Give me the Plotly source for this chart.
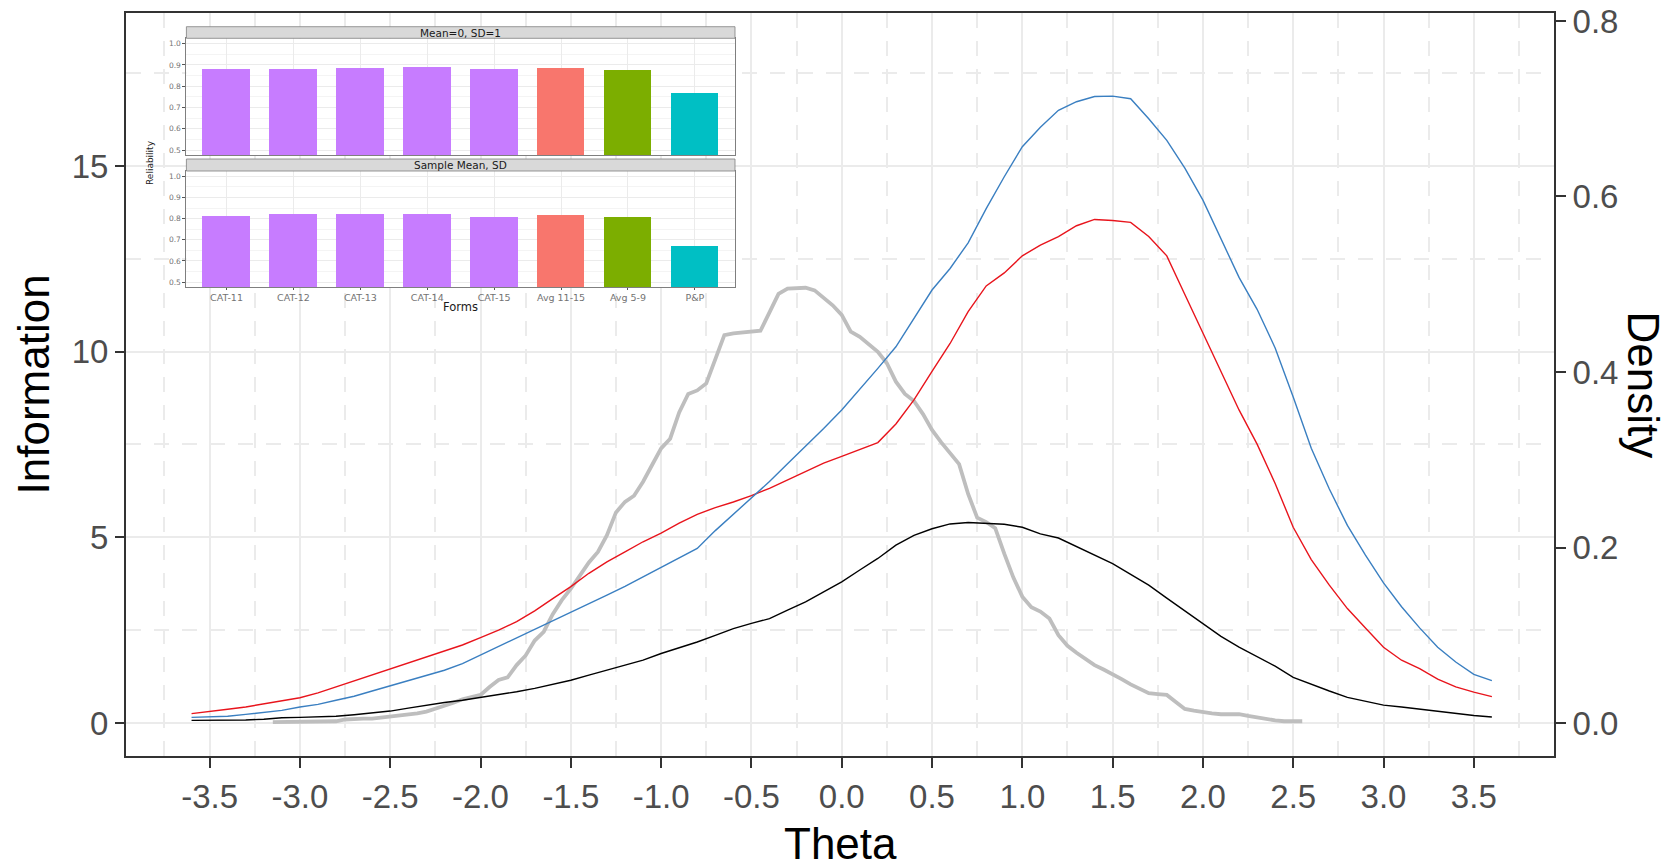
import plotly.graph_objects as go

# ---- test information curves (theta grid shared by the three forms) ----
theta = [-3.6, -3.5, -3.4, -3.3, -3.2, -3.1, -3.0, -2.9, -2.8, -2.7, -2.6, -2.5,
         -2.4, -2.3, -2.2, -2.1, -2.0, -1.9, -1.8, -1.7, -1.6, -1.5, -1.4, -1.3,
         -1.2, -1.1, -1.0, -0.9, -0.8, -0.7, -0.6, -0.5, -0.4, -0.3, -0.2, -0.1,
         0.0, 0.1, 0.2, 0.3, 0.4, 0.5, 0.6, 0.7, 0.8, 0.9, 1.0, 1.1, 1.2, 1.3,
         1.4, 1.5, 1.6, 1.7, 1.8, 1.9, 2.0, 2.1, 2.2, 2.3, 2.4, 2.5, 2.6, 2.7,
         2.8, 2.9, 3.0, 3.1, 3.2, 3.3, 3.4, 3.5, 3.6]

info_blue = [0.15, 0.16, 0.18, 0.23, 0.28, 0.34, 0.43, 0.50, 0.61, 0.72, 0.86, 1.00,
             1.13, 1.26, 1.42, 1.60, 1.83, 2.05, 2.28, 2.50, 2.73, 2.96, 3.20, 3.44,
             3.68, 3.93, 4.18, 4.43, 4.70, 5.18, 5.62, 6.05, 6.50, 6.98, 7.45, 7.93,
             8.43, 8.98, 9.55, 10.13, 10.90, 11.66, 12.24, 12.93, 13.85, 14.71, 15.52,
             16.04, 16.50, 16.73, 16.87, 16.88, 16.81, 16.27, 15.69, 14.94, 14.08,
             13.04, 12.00, 11.14, 10.10, 8.78, 7.40, 6.30, 5.32, 4.52, 3.77, 3.13,
             2.56, 2.04, 1.64, 1.31, 1.14]

info_red = [0.25, 0.32, 0.37, 0.43, 0.52, 0.59, 0.68, 0.81, 0.97, 1.13, 1.31, 1.47,
            1.63, 1.78, 1.93, 2.10, 2.30, 2.50, 2.73, 3.02, 3.35, 3.67, 4.03, 4.34,
            4.61, 4.88, 5.11, 5.38, 5.62, 5.80, 5.95, 6.12, 6.32, 6.55, 6.77, 7.00,
            7.18, 7.36, 7.55, 8.05, 8.70, 9.47, 10.22, 11.08, 11.77, 12.12, 12.58,
            12.87, 13.10, 13.39, 13.56, 13.53, 13.48, 13.10, 12.58, 11.54, 10.51,
            9.47, 8.43, 7.51, 6.45, 5.27, 4.40, 3.71, 3.08, 2.56, 2.04, 1.69, 1.46,
            1.18, 0.97, 0.83, 0.71]

info_black = [0.07, 0.07, 0.07, 0.08, 0.10, 0.14, 0.15, 0.16, 0.18, 0.22, 0.26, 0.32,
              0.40, 0.48, 0.55, 0.61, 0.68, 0.75, 0.84, 0.93, 1.04, 1.15, 1.29, 1.42,
              1.56, 1.69, 1.87, 2.02, 2.18, 2.36, 2.54, 2.68, 2.81, 3.04, 3.26, 3.53,
              3.80, 4.12, 4.43, 4.79, 5.05, 5.23, 5.36, 5.40, 5.38, 5.35, 5.27, 5.09,
              4.98, 4.75, 4.52, 4.29, 4.00, 3.71, 3.36, 3.02, 2.67, 2.33, 2.04, 1.78,
              1.53, 1.23, 1.04, 0.86, 0.69, 0.58, 0.48, 0.43, 0.37, 0.31, 0.25, 0.20,
              0.16]

# ---- sample ability density ----
dens_theta = [-3.15, -3.1, -3.05, -3.0, -2.95, -2.9, -2.85, -2.8, -2.75, -2.7, -2.65,
              -2.6, -2.55, -2.5, -2.45, -2.4, -2.35, -2.3, -2.25, -2.2, -2.15, -2.1,
              -2.05, -2.0, -1.95, -1.9, -1.85, -1.8, -1.75, -1.7, -1.65, -1.6, -1.55,
              -1.5, -1.45, -1.4, -1.35, -1.3, -1.25, -1.2, -1.15, -1.1, -1.05, -1.0,
              -0.95, -0.9, -0.85, -0.8, -0.75, -0.7, -0.65, -0.6, -0.55, -0.5, -0.45,
              -0.4, -0.35, -0.3, -0.25, -0.2, -0.15, -0.1, -0.05, 0.0, 0.05, 0.1,
              0.15, 0.2, 0.25, 0.3, 0.35, 0.4, 0.45, 0.5, 0.55, 0.6, 0.65, 0.7, 0.75,
              0.8, 0.85, 0.9, 0.95, 1.0, 1.05, 1.1, 1.15, 1.2, 1.25, 1.3, 1.35, 1.4,
              1.45, 1.5, 1.55, 1.6, 1.65, 1.7, 1.75, 1.8, 1.85, 1.9, 1.95, 2.0, 2.05,
              2.1, 2.15, 2.2, 2.25, 2.3, 2.35, 2.4, 2.45, 2.5, 2.55]

density = [0.001, 0.001, 0.001, 0.001, 0.001, 0.001, 0.002, 0.002, 0.004, 0.005, 0.005,
           0.005, 0.006, 0.008, 0.009, 0.009, 0.011, 0.013, 0.016, 0.019, 0.023, 0.027,
           0.030, 0.032, 0.041, 0.049, 0.052, 0.066, 0.077, 0.094, 0.104, 0.124, 0.140,
           0.153, 0.168, 0.183, 0.195, 0.214, 0.240, 0.252, 0.259, 0.275, 0.294, 0.313,
           0.324, 0.354, 0.375, 0.379, 0.387, 0.415, 0.442, 0.444, 0.445, 0.446, 0.447,
           0.468, 0.489, 0.495, 0.496, 0.496, 0.493, 0.484, 0.476, 0.465, 0.446, 0.440,
           0.432, 0.423, 0.410, 0.389, 0.375, 0.367, 0.352, 0.334, 0.320, 0.307, 0.295,
           0.261, 0.234, 0.229, 0.222, 0.193, 0.166, 0.144, 0.132, 0.127, 0.119, 0.100,
           0.088, 0.080, 0.073, 0.066, 0.061, 0.056, 0.050, 0.044, 0.039, 0.034, 0.033,
           0.032, 0.024, 0.016, 0.014, 0.012, 0.011, 0.010, 0.010, 0.010, 0.008, 0.006,
           0.004, 0.003, 0.002, 0.002, 0.002]

# ---- reliability by form (inset) ----
forms = ["CAT-11", "CAT-12", "CAT-13", "CAT-14", "CAT-15", "Avg 11-15", "Avg 5-9", "P&P"]
rel_standard = [0.880, 0.881, 0.886, 0.890, 0.879, 0.886, 0.877, 0.768]
rel_sample = [0.811, 0.822, 0.820, 0.823, 0.809, 0.816, 0.809, 0.672]
form_colors = ["#C77CFF", "#C77CFF", "#C77CFF", "#C77CFF", "#C77CFF",
               "#F8766D", "#7CAE00", "#00BFC4"]
facet_labels = ["Mean=0, SD=1", "Sample Mean, SD"]

# ---- axis ticks ----
x_ticks = [-3.5, -3.0, -2.5, -2.0, -1.5, -1.0, -0.5, 0.0, 0.5, 1.0, 1.5, 2.0, 2.5, 3.0, 3.5]
x_ticklabels = ["-3.5", "-3.0", "-2.5", "-2.0", "-1.5", "-1.0", "-0.5", "0.0",
                "0.5", "1.0", "1.5", "2.0", "2.5", "3.0", "3.5"]
info_ticks = [0, 5, 10, 15]
info_ticklabels = ["0", "5", "10", "15"]
dens_ticks = [0.0, 0.2, 0.4, 0.6, 0.8]
dens_ticklabels = ["0.0", "0.2", "0.4", "0.6", "0.8"]
rel_ticks = [0.5, 0.6, 0.7, 0.8, 0.9, 1.0]
rel_ticklabels = ["0.5", "0.6", "0.7", "0.8", "0.9", "1.0"]

# ---- page geometry ----
W, H = 1677, 868
PL, PR, PT, PB = 126, 1554, 13, 756   # main panel edges in pixels


def fx(px):
    return (px - PL) / (PR - PL)


def fy(py):
    return (PB - py) / (PB - PT)


MAIN_FONT = "Liberation Sans, Arial, Helvetica, sans-serif"
INSET_FONT = "DejaVu Sans, Liberation Sans, Arial, sans-serif"
GRID = "#EBEBEB"
AXIS = "#333333"
TICKTXT = "#4D4D4D"

fig = go.Figure()

# density on the primary (right) axis, drawn first so it sits beneath the curves
fig.add_trace(go.Scatter(x=dens_theta, y=density, mode="lines",
                         line=dict(color="#BEBEBE", width=3.8),
                         xaxis="x", yaxis="y", hoverinfo="skip"))
for vals, col in [(info_black, "#000000"), (info_red, "#E8141C"), (info_blue, "#3A7FC1")]:
    fig.add_trace(go.Scatter(x=theta, y=vals, mode="lines",
                             line=dict(color=col, width=1.4),
                             xaxis="x", yaxis="y2", hoverinfo="skip"))

# inset bars, two facets
fig.add_trace(go.Bar(x=forms, y=rel_standard, marker=dict(color=form_colors, line=dict(width=0)),
                     width=0.71, xaxis="x3", yaxis="y3", hoverinfo="skip"))
fig.add_trace(go.Bar(x=forms, y=rel_sample, marker=dict(color=form_colors, line=dict(width=0)),
                     width=0.71, xaxis="x4", yaxis="y4", hoverinfo="skip"))

# inset geometry (pixels)
IX0, IX1 = 186.4, 735.0
TOP_P = (38.3, 155.0)
BOT_P = (171.0, 287.0)
TOP_S = (26.7, 38.3)
BOT_S = (159.0, 171.0)

inset_y = dict(range=[0.477, 1.025], tickmode="array", tickvals=rel_ticks,
               ticktext=rel_ticklabels, ticks="outside", ticklen=3, tickwidth=0.8,
               tickcolor="#555555", tickfont=dict(family=INSET_FONT, size=7.5, color="#737373"),
               showgrid=True, gridcolor=GRID, gridwidth=1, zeroline=False,
               minor=dict(tickmode="linear", tick0=0.55, dtick=0.1, showgrid=True,
                          gridcolor="#F4F4F4", gridwidth=0.6, ticks=""),
               showline=True, mirror=True, linecolor="#7F7F7F", linewidth=1,
               automargin=False, fixedrange=True)
inset_x = dict(type="category", range=[-0.6, 7.6], showgrid=True, gridcolor=GRID,
               gridwidth=1, zeroline=False, showline=True, mirror=True,
               linecolor="#7F7F7F", linewidth=1, domain=[fx(IX0), fx(IX1)],
               automargin=False, fixedrange=True)

fig.update_layout(
    width=W, height=H,
    margin=dict(l=PL, r=W - PR, t=PT, b=H - PB, pad=0, autoexpand=False),
    paper_bgcolor="white", plot_bgcolor="white",
    showlegend=False, bargap=0,
    font=dict(family=MAIN_FONT, color=TICKTXT),
    xaxis=dict(domain=[0, 1], anchor="y", range=[-3.963, 3.944],
               tickmode="array", tickvals=x_ticks, ticktext=x_ticklabels,
               ticks="outside", ticklen=10, tickwidth=2, tickcolor=AXIS,
               tickfont=dict(size=33, color=TICKTXT, family=MAIN_FONT),
               showline=True, mirror=True, linecolor=AXIS, linewidth=2,
               showgrid=True, gridcolor=GRID, gridwidth=2, zeroline=False,
               minor=dict(tickmode="linear", tick0=-3.75, dtick=0.5, showgrid=True,
                          gridcolor=GRID, gridwidth=2, griddash="15px,13px", ticks=""),
               automargin=False, fixedrange=True),
    yaxis=dict(domain=[0, 1], anchor="x", side="right",
               range=[-0.0376, 0.8091], tickmode="array", tickvals=dens_ticks,
               ticktext=dens_ticklabels, ticks="outside", ticklen=10, tickwidth=2,
               tickcolor=AXIS, tickfont=dict(size=33, color=TICKTXT, family=MAIN_FONT),
               showline=True, mirror=True, linecolor=AXIS, linewidth=2,
               showgrid=False, zeroline=False, automargin=False, fixedrange=True),
    yaxis2=dict(overlaying="y", anchor="x", side="left",
                range=[-0.89, 19.12], tickmode="array", tickvals=info_ticks,
                ticktext=info_ticklabels, ticks="outside", ticklen=10, tickwidth=2,
                tickcolor=AXIS, tickfont=dict(size=33, color=TICKTXT, family=MAIN_FONT),
                showline=False, showgrid=True, gridcolor=GRID, gridwidth=2,
                zeroline=False,
                minor=dict(tickmode="linear", tick0=2.5, dtick=5, showgrid=True,
                           gridcolor=GRID, gridwidth=2, griddash="15px,13px", ticks=""),
                automargin=False, fixedrange=True),
    xaxis3=dict(inset_x, anchor="y3", showticklabels=False, ticks=""),
    yaxis3=dict(inset_y, anchor="x3", domain=[fy(TOP_P[1]), fy(TOP_P[0])]),
    xaxis4=dict(inset_x, anchor="y4", showticklabels=True, ticks="outside",
                ticklen=2, tickwidth=0.8, tickcolor="#555555",
                tickfont=dict(family=INSET_FONT, size=9.5, color="#737373")),
    yaxis4=dict(inset_y, anchor="x4", domain=[fy(BOT_P[1]), fy(BOT_P[0])]),
)

shapes = [
    # white backing for the inset panel
    dict(type="rect", xref="x domain", yref="y domain", layer="below",
         x0=fx(134), x1=fx(739), y0=fy(308), y1=fy(23),
         fillcolor="white", line=dict(width=0)),
]
for s0, s1 in (TOP_S, BOT_S):
    shapes.append(dict(type="rect", xref="paper", yref="paper", layer="above",
                       x0=fx(IX0), x1=fx(IX1), y0=fy(s1), y1=fy(s0),
                       fillcolor="#D9D9D9", line=dict(color="#7F7F7F", width=0.8)))
fig.update_layout(shapes=shapes)

annotations = [
    dict(text="Theta", xref="paper", yref="paper", x=0.5, y=fy(843),
         xanchor="center", yanchor="middle", showarrow=False,
         font=dict(size=44, color="black", family=MAIN_FONT)),
    dict(text="Information", xref="paper", yref="paper", x=fx(33), y=0.5,
         xanchor="center", yanchor="middle", textangle=-90, showarrow=False,
         font=dict(size=44, color="black", family=MAIN_FONT)),
    dict(text="Density", xref="paper", yref="paper", x=fx(1643), y=0.5,
         xanchor="center", yanchor="middle", textangle=90, showarrow=False,
         font=dict(size=44, color="black", family=MAIN_FONT)),
    dict(text="Reliability", xref="paper", yref="paper", x=fx(150), y=fy(163),
         xanchor="center", yanchor="middle", textangle=-90, showarrow=False,
         font=dict(size=9, color="#1A1A1A", family=INSET_FONT)),
    dict(text="Forms", xref="paper", yref="paper", x=fx((IX0 + IX1) / 2), y=fy(307),
         xanchor="center", yanchor="middle", showarrow=False,
         font=dict(size=11.5, color="#1A1A1A", family=INSET_FONT)),
]
for (s0, s1), lab in zip((TOP_S, BOT_S), facet_labels):
    annotations.append(dict(text=lab, xref="paper", yref="paper",
                            x=fx((IX0 + IX1) / 2), y=fy((s0 + s1) / 2),
                            xanchor="center", yanchor="middle", showarrow=False,
                            font=dict(size=10.5, color="#1A1A1A", family=INSET_FONT)))
fig.update_layout(annotations=annotations)

fig.write_html("out.html", config=dict(displayModeBar=False))
